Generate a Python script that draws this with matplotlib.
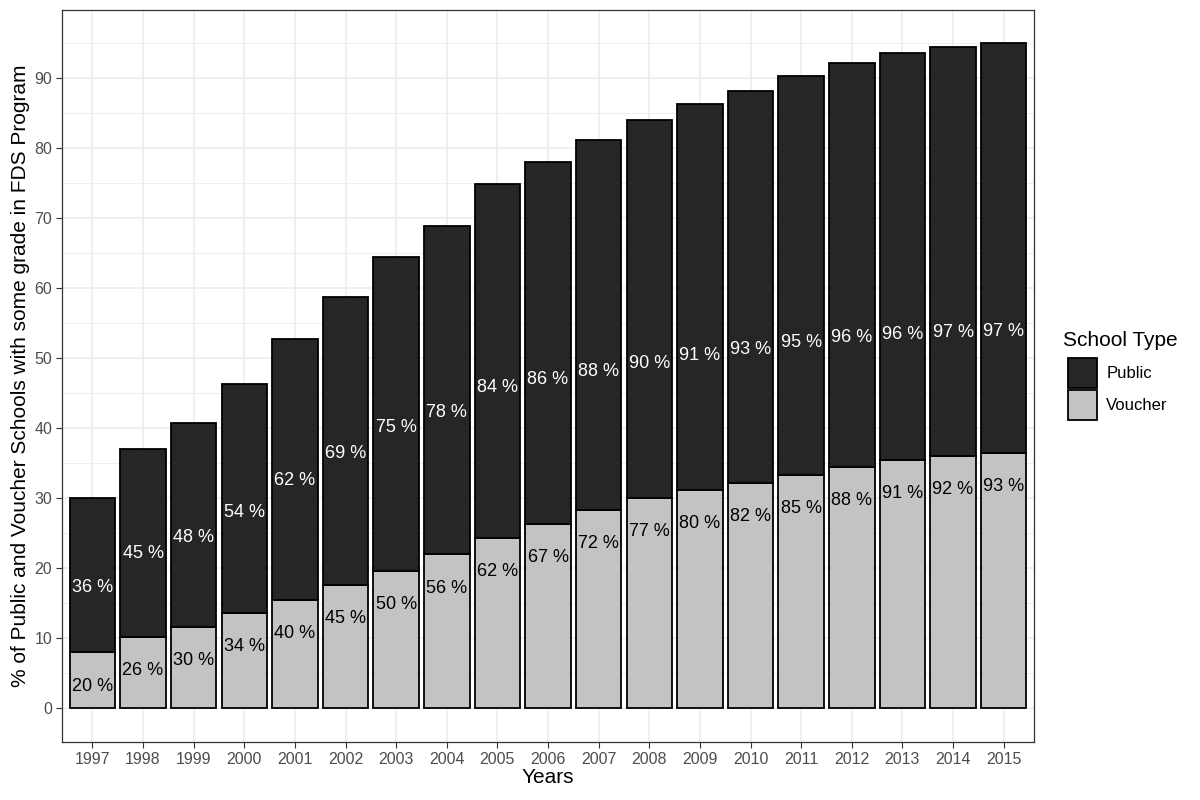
import matplotlib.pyplot as plt
import numpy as np
from matplotlib.patches import Patch

plt.rcParams['font.family'] = ['Liberation Sans', 'DejaVu Sans']

years = [str(y) for y in range(1997, 2016)]
# segment heights (% of schools)
voucher = [7.9, 10.1, 11.6, 13.6, 15.4, 17.6, 19.6, 21.9, 24.3, 26.3,
           28.3, 30.0, 31.1, 32.1, 33.3, 34.4, 35.4, 36.0, 36.4]
total = [29.9, 37.0, 40.7, 46.3, 52.7, 58.7, 64.4, 68.9, 74.9, 78.0,
         81.1, 84.0, 86.3, 88.1, 90.3, 92.1, 93.6, 94.4, 95.0]
public = [t - v for t, v in zip(total, voucher)]
public_lab = [36, 45, 48, 54, 62, 69, 75, 78, 84, 86, 88, 90, 91, 93, 95, 96, 96, 97, 97]
voucher_lab = [20, 26, 30, 34, 40, 45, 50, 56, 62, 67, 72, 77, 80, 82, 85, 88, 91, 92, 93]

dark = '#262626'
light = '#c3c3c3'

fig = plt.figure(figsize=(12, 8), dpi=100, facecolor='white')
ax = fig.add_axes([0.0517, 0.0725, 0.81, 0.915])

x = np.arange(len(years))
ax.bar(x, voucher, width=0.9, color=light, edgecolor='black', linewidth=1.3, zorder=3)
ax.bar(x, public, bottom=voucher, width=0.9, color=dark, edgecolor='black',
       linewidth=1.3, zorder=3)

# labels sit just under the unstacked segment value
for i in range(len(years)):
    ax.text(x[i], public[i] - 4.8, f'{public_lab[i]} %', ha='center', va='center',
            color='white', fontsize=13, zorder=5)
    ax.text(x[i], voucher[i] - 4.8, f'{voucher_lab[i]} %', ha='center', va='center',
            color='black', fontsize=13, zorder=5)

ax.set_xlim(-0.6, 18.6)
ax.set_ylim(-4.9, 99.7)
ax.set_xticks(x)
ax.set_xticklabels(years)
ax.set_yticks(np.arange(0, 91, 10))
ax.set_yticks(np.arange(5, 96, 10), minor=True)
ax.grid(which='major', color='#ebebeb', linewidth=1.1, zorder=0)
ax.grid(which='minor', axis='y', color='#ebebeb', linewidth=0.6, zorder=0)
ax.set_axisbelow(True)
ax.tick_params(axis='both', which='major', labelsize=11.5, labelcolor='#4d4d4d',
               color='#333333', length=4, width=0.8, pad=3)
ax.tick_params(axis='y', which='minor', length=0)
for s in ax.spines.values():
    s.set_color('#333333')
    s.set_linewidth(0.9)

ax.set_xlabel('Years', fontsize=15, labelpad=1)
ax.set_ylabel('% of Public and Voucher Schools with some grade in FDS Program',
              fontsize=15, labelpad=3)

# legend (title drawn separately so the gap above the keys matches)
fig.text(1063 / 1200, 1 - 340 / 800, 'School Type', fontsize=15,
         ha='left', va='center')
handles = [Patch(facecolor=dark, edgecolor='black', linewidth=1.3, label='Public'),
           Patch(facecolor=light, edgecolor='black', linewidth=1.3, label='Voucher')]
leg = fig.legend(handles=handles, loc='upper left',
                 bbox_to_anchor=(1068 / 1200, 1 - 358 / 800), frameon=False,
                 fontsize=12, handlelength=1.75, handleheight=2.39,
                 handletextpad=0.55, labelspacing=0.13,
                 borderpad=0, borderaxespad=0)

fig.savefig('out.png', dpi=100, facecolor='white')
